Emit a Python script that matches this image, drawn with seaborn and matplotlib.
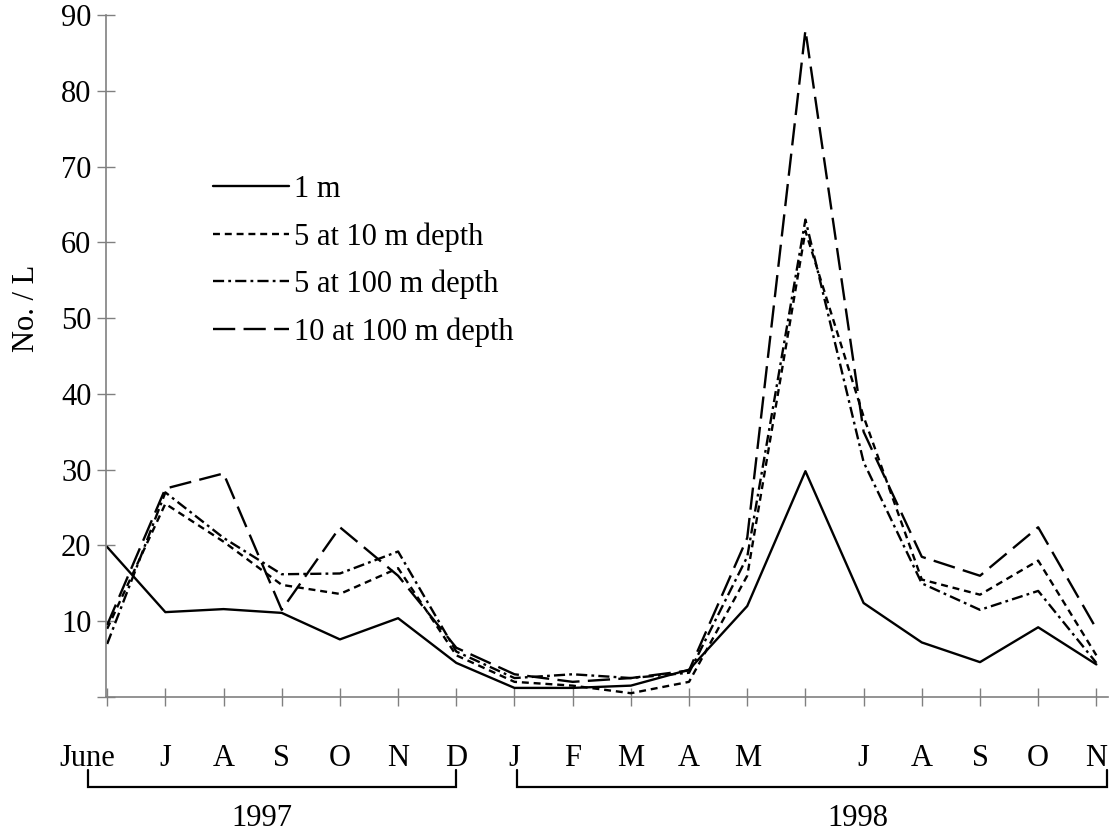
import matplotlib
matplotlib.use("Agg")
import matplotlib.pyplot as plt
import matplotlib.transforms as mtransforms
import seaborn as sns
import pandas as pd
import numpy as np

# ---------------- data ----------------
months = ["June", "J", "A", "S", "O", "N", "D",
          "J", "F", "M", "A", "M", "", "J", "A", "S", "O", "N"]
series_names = ["1 m", "5 at 10 m depth", "5 at 100 m depth", "10 at 100 m depth"]
one_m = [19.8, 11.2, 11.6, 11.1, 7.6, 10.4, 4.5, 1.2, 1.2, 1.5, 3.6, 12.0, 29.8, 12.4, 7.2, 4.6, 9.2, 4.3]
five_10m = [9.0, 25.5, 20.5, 14.8, 13.6, 17.0, 5.5, 2.0, 1.5, 0.5, 2.0, 16.0, 61.5, 37.0, 15.5, 13.5, 18.0, 5.5]
five_100m = [7.0, 27.0, 21.0, 16.2, 16.3, 19.2, 6.0, 2.5, 3.0, 2.5, 3.2, 18.5, 63.0, 31.0, 15.0, 11.5, 14.0, 4.5]
ten_100m = [9.5, 27.5, 29.5, 11.5, 22.4, 16.0, 6.5, 3.0, 2.0, 2.5, 3.5, 21.0, 88.0, 35.0, 18.5, 16.0, 22.4, 9.0]
years = ["1997", "1998"]
year_spans = [(0, 6), (7, 17)]   # index ranges of months belonging to each year
y_ticks = [0, 10, 20, 30, 40, 50, 60, 70, 80, 90]
y_ticklabels = ["", "10", "20", "30", "40", "50", "60", "70", "80", "90"]

# ---------------- frame ----------------
idx = list(range(len(months)))
df = pd.concat([
    pd.DataFrame({"idx": idx, "value": vals, "series": name})
    for name, vals in zip(series_names, [one_m, five_10m, five_100m, ten_100m])
], ignore_index=True)

sns.set_theme(style="ticks")
plt.rcParams["font.family"] = ["Liberation Serif", "DejaVu Serif"]
plt.rcParams["lines.scale_dashes"] = False
plt.rcParams["axes.unicode_minus"] = False
plt.rcParams["text.color"] = "black"
plt.rcParams["axes.labelcolor"] = "black"
plt.rcParams["xtick.labelcolor"] = "black"
plt.rcParams["ytick.labelcolor"] = "black"

W, H = 1116, 835
fig = plt.figure(figsize=(W / 100, H / 100), dpi=100)
left, right = 106 / W, 1108 / W
bottom, top = 1 - 697 / H, 1 - 15 / H
ax = fig.add_axes([left, bottom, right - left, top - bottom])

dashes = {
    "1 m": "",
    "5 at 10 m depth": (5, 3.5),
    "5 at 100 m depth": (8, 3, 2, 3),
    "10 at 100 m depth": (16, 6),
}
sns.lineplot(data=df, x="idx", y="value", hue="series", style="series",
             hue_order=series_names, style_order=series_names,
             palette=["black"] * 4, dashes=dashes, linewidth=1.7,
             ax=ax, legend=True, clip_on=False)

ax.set_xlim(-0.02, 17.2)
ax.set_ylim(0, 90)

FS = 22
ax.set_yticks(y_ticks)
ax.set_yticklabels(y_ticklabels, fontsize=FS, color="black")
ax.set_xticks(idx)
ax.set_xticklabels(months, fontsize=FS, color="black")
ax.tick_params(axis="y", which="both", left=True, direction="inout", length=13,
               width=1, color="#808080", pad=4, labelcolor="black")
ax.tick_params(axis="x", which="both", bottom=True, direction="inout", length=13,
               width=1, color="#808080", pad=27, labelcolor="black")

# shift "June" label to the left like the reference
for lab in ax.get_xticklabels()[:1]:
    lab.set_transform(lab.get_transform() + mtransforms.ScaledTranslation(-20 / 100, 0, fig.dpi_scale_trans))

for s in ["top", "right"]:
    ax.spines[s].set_visible(False)
for s in ["left", "bottom"]:
    ax.spines[s].set_color("#808080")
    ax.spines[s].set_linewidth(1.2)

ax.set_xlabel("")
ax.set_ylabel("No. / L", fontsize=FS, color="black")
ax.yaxis.set_label_coords(-0.065, 0.57)

# legend
handles, labels = ax.get_legend_handles_labels()
leg = ax.legend(handles, labels, loc="upper left",
                bbox_to_anchor=(213 / W, 1 - 175 / H), bbox_transform=fig.transFigure,
                frameon=False, fontsize=FS, handlelength=2.5, handletextpad=0.15,
                labelspacing=0.59, borderpad=0, borderaxespad=0)
for line in leg.get_lines():
    line.set_linewidth(1.7)
for t in leg.get_texts():
    t.set_color("black")

# year brackets below the month labels
trans = mtransforms.blended_transform_factory(ax.transData, fig.transFigure)
y_bar = 1 - 787 / H
y_end = 1 - 770 / H
y_txt = 1 - 818 / H
bracket_pad = [(-0.33, 0.0), (0.05, 0.19)]
label_shift = [-0.17, 0.78]
for (a, b), (pa, pb), sh, yr in zip(year_spans, bracket_pad, label_shift, years):
    x0, x1 = a + pa, b + pb
    ax.plot([x0, x0, x1, x1], [y_end, y_bar, y_bar, y_end], color="black",
            linewidth=1.6, transform=trans, clip_on=False, solid_joinstyle="miter")
    ax.text((x0 + x1) / 2 + sh, y_txt, yr, transform=trans, ha="center", va="center",
            fontsize=FS, color="black")

fig.savefig("out.png", dpi=100, facecolor="white")
